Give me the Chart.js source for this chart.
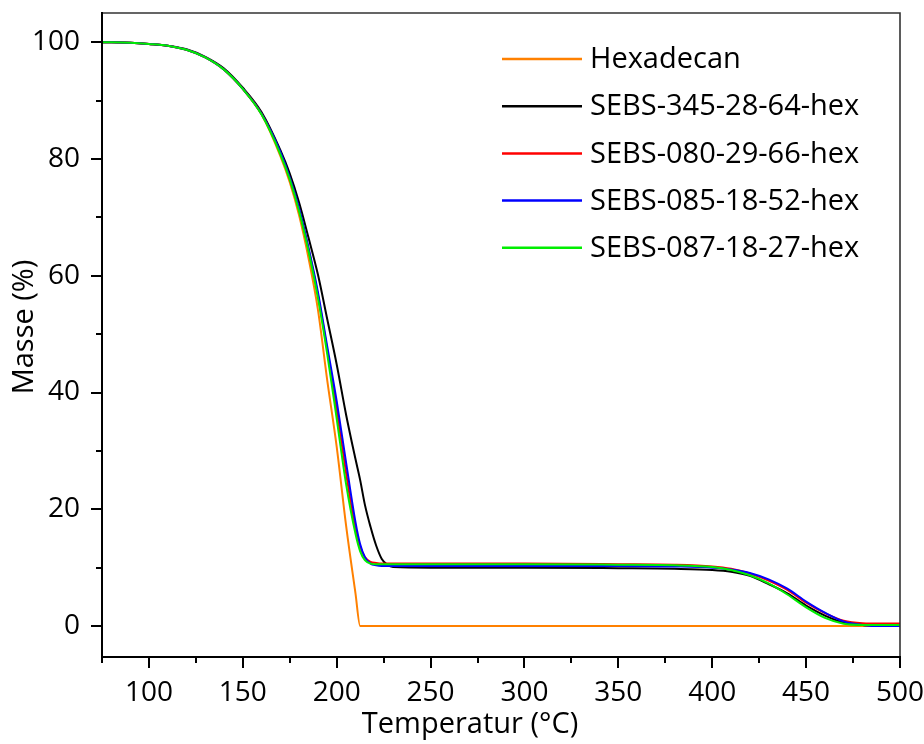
<!DOCTYPE html>
<html><head><meta charset="utf-8">
<script src="https://cdn.jsdelivr.net/npm/chart.js@4/dist/chart.umd.min.js"></script>
<style>html,body{margin:0;padding:0;background:#fff}#wrap{width:924px;height:744px}</style>
</head><body><div id="wrap"><canvas id="c" width="924" height="744"></canvas></div>
<script>
// Temperature (°C)
const temps = [75, 90, 100, 110, 120, 130, 140, 150, 160, 170, 175, 180, 185, 190, 195, 200, 205, 210, 212.5, 215, 218, 221, 224, 227, 230, 250, 300, 350, 380, 400, 410, 420, 430, 440, 450, 460, 470, 480, 490, 500];
// Masse (%)
const hexadecan = [100, 99.9, 99.7, 99.4, 98.7, 97.4, 95.3, 92.0, 87.6, 80.5, 76.0, 70.3, 63.0, 54.2, 42.0, 30.7, 17.2, 5.6, 0, 0, 0, 0, 0, 0, 0, 0, 0, 0, 0, 0, 0, 0, 0, 0, 0, 0, 0, 0, 0, 0];
const sebs345 = [100, 99.9, 99.7, 99.4, 98.8, 97.5, 95.5, 92.2, 88.0, 81.5, 77.5, 72.5, 66.5, 60.2, 52.5, 44.8, 36.2, 28.6, 25.0, 20.8, 17.0, 13.8, 11.5, 10.5, 10.1, 10.0, 10.0, 9.9, 9.8, 9.6, 9.3, 8.6, 7.2, 5.6, 3.5, 1.8, 0.6, 0.2, 0.1, 0.0];
const sebs080 = [100, 99.9, 99.7, 99.4, 98.7, 97.4, 95.3, 92.0, 87.7, 81.0, 76.6, 71.2, 64.5, 56.7, 47.2, 37.0, 26.2, 16.6, 13.6, 11.8, 11.0, 10.8, 10.7, 10.7, 10.7, 10.7, 10.7, 10.6, 10.5, 10.2, 9.8, 9.0, 7.8, 6.2, 4.0, 2.2, 0.9, 0.5, 0.45, 0.45];
const sebs085 = [100, 99.9, 99.7, 99.4, 98.7, 97.4, 95.3, 92.0, 87.7, 81.2, 76.8, 71.5, 64.8, 57.2, 47.8, 38.5, 28.0, 17.8, 14.0, 11.8, 10.7, 10.4, 10.3, 10.3, 10.3, 10.3, 10.3, 10.3, 10.2, 10.0, 9.7, 9.1, 8.0, 6.4, 4.2, 2.3, 0.8, 0.2, 0.0, 0.0];
const sebs087 = [100, 99.9, 99.7, 99.4, 98.7, 97.4, 95.3, 92.0, 87.6, 80.8, 76.5, 71.0, 64.2, 56.2, 46.5, 35.5, 24.3, 15.8, 12.8, 11.3, 10.7, 10.6, 10.6, 10.6, 10.6, 10.6, 10.6, 10.5, 10.4, 10.1, 9.6, 8.7, 7.3, 5.4, 3.2, 1.4, 0.4, 0.2, 0.2, 0.2];

const seriesLabels = ['Hexadecan', 'SEBS-345-28-64-hex', 'SEBS-080-29-66-hex', 'SEBS-085-18-52-hex', 'SEBS-087-18-27-hex'];
const seriesValues = [hexadecan, sebs345, sebs080, sebs085, sebs087];
const seriesColors = ['#ff8000', '#000000', '#ff0000', '#0000ff', '#00ee00'];

const xMajorTicks = [100, 150, 200, 250, 300, 350, 400, 450, 500];
const xMinorTicks = [75, 125, 175, 225, 275, 325, 375, 425, 475];
const yMajorTicks = [0, 20, 40, 60, 80, 100];
const yMinorTicks = [10, 30, 50, 70, 90];
const xTitle = 'Temperatur (°C)';
const yTitle = 'Masse (%)';

const FONT = '"Open Sans", "Noto Sans", sans-serif';

const datasets = seriesValues.map((vals, i) => ({
  label: seriesLabels[i],
  data: temps.map((t, j) => ({x: t, y: vals[j]})),
  borderColor: seriesColors[i],
  backgroundColor: seriesColors[i],
  borderWidth: 2,
  pointRadius: 0,
  fill: false,
  cubicInterpolationMode: 'monotone',
  order: seriesValues.length - i
}));

const decor = {
  id: 'decor',
  afterDraw(chart) {
    const ctx = chart.ctx;
    const a = chart.chartArea;
    const xs = chart.scales.x, ys = chart.scales.y;
    ctx.save();
    // frame
    ctx.lineCap = 'butt';
    ctx.strokeStyle = '#333';
    ctx.lineWidth = 1.6;
    ctx.beginPath();
    ctx.moveTo(a.left, a.top); ctx.lineTo(a.right, a.top); ctx.lineTo(a.right, a.bottom);
    ctx.stroke();
    ctx.strokeStyle = '#000';
    ctx.lineWidth = 2;
    ctx.beginPath();
    ctx.moveTo(a.left, a.top - 1); ctx.lineTo(a.left, a.bottom); ctx.lineTo(a.right + 1, a.bottom);
    ctx.stroke();
    // ticks
    ctx.lineWidth = 2;
    ctx.beginPath();
    xMajorTicks.forEach(v => { const p = Math.round(xs.getPixelForValue(v)); ctx.moveTo(p, a.bottom); ctx.lineTo(p, a.bottom + 11); });
    xMinorTicks.forEach(v => { const p = Math.round(xs.getPixelForValue(v)); ctx.moveTo(p, a.bottom); ctx.lineTo(p, a.bottom + 6); });
    yMajorTicks.forEach(v => { const p = Math.round(ys.getPixelForValue(v)); ctx.moveTo(a.left, p); ctx.lineTo(a.left - 11, p); });
    yMinorTicks.forEach(v => { const p = Math.round(ys.getPixelForValue(v)); ctx.moveTo(a.left, p); ctx.lineTo(a.left - 6, p); });
    ctx.stroke();
    // legend
    ctx.font = '29px ' + FONT;
    ctx.textAlign = 'left';
    ctx.textBaseline = 'middle';
    chart.data.datasets.forEach((ds, i) => {
      const y = 59 + i * 47.2;
      ctx.strokeStyle = ds.borderColor;
      ctx.lineWidth = 2.5;
      ctx.beginPath(); ctx.moveTo(502, y); ctx.lineTo(582, y); ctx.stroke();
      ctx.fillStyle = '#000';
      ctx.fillText(ds.label, 590, y + 1);
    });
    // axis titles
    ctx.font = '29px ' + FONT;
    ctx.textAlign = 'center';
    ctx.textBaseline = 'alphabetic';
    ctx.fillText(xTitle, 470, 733);
    ctx.translate(33, 327);
    ctx.rotate(-Math.PI / 2);
    ctx.fillText(yTitle, 0, 0);
    ctx.restore();
  }
};

new Chart(document.getElementById('c'), {
  type: 'line',
  data: {datasets},
  options: {
    responsive: false,
    animation: false,
    devicePixelRatio: 1,
    layout: {padding: {top: 13, right: 24, left: 0, bottom: 0}},
    plugins: {legend: {display: false}, tooltip: {enabled: false}},
    scales: {
      x: {
        type: 'linear', min: 75, max: 500,
        afterBuildTicks: s => { s.ticks = xMajorTicks.map(v => ({value: v})); },
        afterFit: s => { s.height = 87; s.paddingLeft = 0; s.paddingRight = 0; },
        ticks: {font: {family: FONT, size: 28}, color: '#000', padding: 19, autoSkip: false, maxRotation: 0},
        grid: {display: true, drawOnChartArea: false, drawTicks: false},
        border: {display: false}
      },
      y: {
        type: 'linear', min: -5.3, max: 105,
        afterBuildTicks: s => { s.ticks = yMajorTicks.map(v => ({value: v})); },
        afterFit: s => { s.width = 102; s.paddingTop = 0; s.paddingBottom = 0; },
        ticks: {font: {family: FONT, size: 28}, color: '#000', padding: 22, autoSkip: false},
        grid: {display: true, drawOnChartArea: false, drawTicks: false},
        border: {display: false}
      }
    }
  },
  plugins: [decor]
});
</script></body></html>
